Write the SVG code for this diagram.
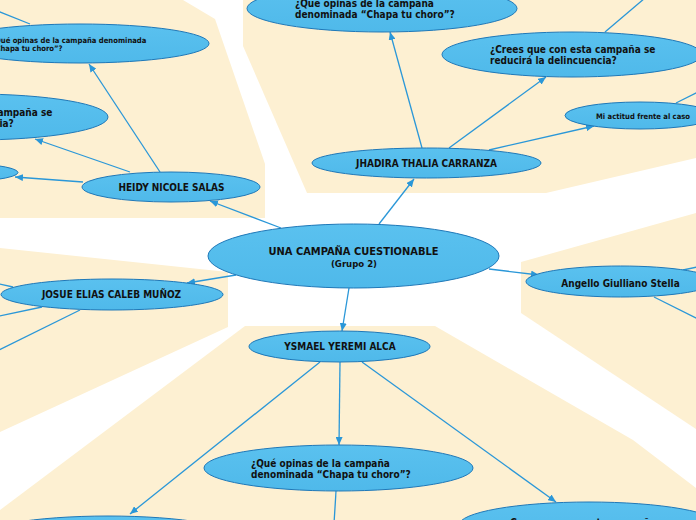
<svg xmlns="http://www.w3.org/2000/svg" width="696" height="520" viewBox="0 0 696 520">
<defs>
<linearGradient id="nodeFill" x1="0" y1="0" x2="0" y2="1">
<stop offset="0" stop-color="#5AC1EF"/>
<stop offset="1" stop-color="#4FB9EA"/>
</linearGradient>
<marker id="arrow" markerUnits="userSpaceOnUse" markerWidth="8" markerHeight="7" refX="8" refY="3.5" orient="auto">
<path d="M0,0 L8,3.5 L0,7 z" fill="#2A97D8"/>
</marker>
</defs>
<style>
.region{fill:#FDF0D2;stroke:none}
.node{fill:url(#nodeFill);stroke:#1F78B8;stroke-width:1}
.edge{stroke:#2A97D8;stroke-width:1.3;fill:none}
.arr{marker-end:url(#arrow)}
text{font-family:"DejaVu Sans Condensed","DejaVu Sans",sans-serif;font-stretch:condensed;font-weight:bold;fill:#111;font-size:10px}
.c{text-anchor:middle}
.sm{font-size:7.6px}
.title{font-size:11px}
</style>
<rect width="696" height="520" fill="#FFFFFF"/>
<g id="regions">
<polygon class="region" points="0,0 183,0 215,19 265,164 265,218 0,218"/>
<polygon class="region" points="243,0 696,0 696,158 546,193 307,193 243,46"/>
<polygon class="region" points="0,248 228,272 228,327 0,432"/>
<polygon class="region" points="521,262 696,213 696,429 521,313"/>
<polygon class="region" points="245,326 435,326 633,440 696,488 696,520 0,520 0,510"/>
</g>
<g id="connectors">
<line class="edge arr" x1="281" y1="228" x2="210" y2="201"/>
<line class="edge arr" x1="379" y1="224" x2="414" y2="179"/>
<line class="edge arr" x1="236" y1="275" x2="187" y2="283"/>
<line class="edge arr" x1="489" y1="269" x2="539" y2="275"/>
<line class="edge arr" x1="349" y1="288" x2="342" y2="331"/>
<line class="edge arr" x1="160" y1="172" x2="89" y2="64"/>
<line class="edge arr" x1="130" y1="172" x2="35" y2="139"/>
<line class="edge arr" x1="83" y1="182" x2="15" y2="177"/>
<line class="edge" x1="30" y1="24" x2="-5" y2="10"/>
<line class="edge arr" x1="422" y1="148" x2="390" y2="32"/>
<line class="edge arr" x1="449" y1="148" x2="546" y2="77"/>
<line class="edge arr" x1="489" y1="150" x2="594" y2="126"/>
<line class="edge" x1="605" y1="32" x2="645" y2="-2"/>
<line class="edge" x1="676" y1="103" x2="702" y2="90"/>
<line class="edge" x1="13" y1="287" x2="-5" y2="283"/>
<line class="edge" x1="42" y1="307" x2="-5" y2="317"/>
<line class="edge" x1="80" y1="310" x2="-5" y2="352"/>
<line class="edge" x1="683" y1="270" x2="702" y2="266"/>
<line class="edge" x1="654" y1="297" x2="702" y2="321"/>
<line class="edge arr" x1="340" y1="362" x2="339" y2="445"/>
<line class="edge arr" x1="320" y1="362" x2="130" y2="514"/>
<line class="edge arr" x1="362" y1="362" x2="556" y2="502"/>
<line class="edge" x1="336" y1="491" x2="334" y2="524"/>
</g>
<g id="central">
<ellipse class="node" cx="353.5" cy="256" rx="145.5" ry="32"/>
<text class="c title" x="353.5" y="255">UNA CAMPAÑA CUESTIONABLE</text>
<text class="c" x="354" y="267" style="font-size:9.5px">(Grupo 2)</text>
</g>
<g id="heidy">
<ellipse class="node" cx="171" cy="187" rx="89" ry="15"/>
<text class="c" x="171.5" y="191">HEIDY NICOLE SALAS</text>
</g>
<g id="heidy-que">
<ellipse class="node" cx="80" cy="43.5" rx="129" ry="19.5"/>
<text class="sm" x="-9" y="42.5">¿Qué opinas de la campaña denominada</text>
<text class="sm" x="-9" y="51">“Chapa tu choro”?</text>
</g>
<g id="heidy-crees">
<ellipse class="node" cx="-26" cy="117" rx="134" ry="23"/>
<text x="-113" y="115.5">¿Crees que con esta campaña se</text>
<text x="-113" y="126.5">reducirá la delincuencia?</text>
</g>
<g id="heidy-actitud">
<ellipse class="node" cx="-57" cy="172.5" rx="75" ry="10"/>
</g>
<g id="jhadira">
<ellipse class="node" cx="426.5" cy="163" rx="114.5" ry="15"/>
<text class="c" x="426.5" y="166.5">JHADIRA THALIA CARRANZA</text>
</g>
<g id="jhadira-que">
<ellipse class="node" cx="382" cy="8.5" rx="135" ry="23.5"/>
<text x="295" y="6.5">¿Qué opinas de la campaña</text>
<text x="295" y="17.5">denominada “Chapa tu choro”?</text>
</g>
<g id="jhadira-crees">
<ellipse class="node" cx="572" cy="54.5" rx="130" ry="22.5"/>
<text x="490" y="52.5">¿Crees que con esta campaña se</text>
<text x="490" y="63.5">reducirá la delincuencia?</text>
</g>
<g id="jhadira-actitud">
<ellipse class="node" cx="640" cy="115.5" rx="75" ry="13.5"/>
<text class="sm" x="596" y="119">Mi actitud frente al caso</text>
</g>
<g id="josue">
<ellipse class="node" cx="112" cy="294.5" rx="111" ry="15.5"/>
<text class="c" x="111.5" y="298">JOSUE ELIAS CALEB MUÑOZ</text>
</g>
<g id="angello">
<ellipse class="node" cx="620.5" cy="281.5" rx="94.5" ry="15.5"/>
<text class="c" x="620.5" y="286.5">Angello Giulliano Stella</text>
</g>
<g id="ysmael">
<ellipse class="node" cx="339.5" cy="346.5" rx="90.5" ry="15.5"/>
<text class="c" x="340" y="350">YSMAEL YEREMI ALCA</text>
</g>
<g id="ysmael-que">
<ellipse class="node" cx="338.5" cy="468" rx="134.5" ry="23"/>
<text x="251" y="467">¿Qué opinas de la campaña</text>
<text x="251" y="478">denominada “Chapa tu choro”?</text>
</g>
<g id="ysmael-left">
<ellipse class="node" cx="108" cy="539" rx="134" ry="23"/>
</g>
<g id="ysmael-crees">
<ellipse class="node" cx="589" cy="525" rx="130" ry="23"/>
<text x="505" y="525.5">¿Crees que con esta campaña se</text>
</g>
</svg>
